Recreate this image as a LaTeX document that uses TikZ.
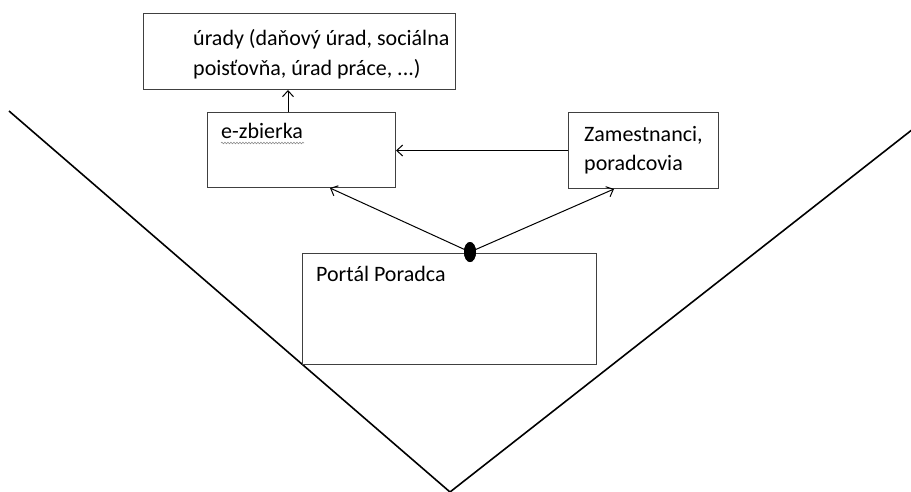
\documentclass[tikz,border=0pt]{standalone}
\usepackage{fontspec}
\setmainfont{Carlito}
\usetikzlibrary{arrows.meta,shapes.geometric,decorations.pathmorphing}
\begin{document}
\begin{tikzpicture}[x=1pt,y=-1pt,
  box/.style={draw=black!75,line width=1pt,rectangle,anchor=north west,inner sep=0pt},
  txt/.style={anchor=base west,inner sep=0pt,font=\fontsize{22}{29}\selectfont,align=left},
  arr/.style={line width=1pt,-{Straight Barb[length=6pt,width=11pt]}},
  vline/.style={line width=1.6pt,black}]
\useasboundingbox (0,0) rectangle (911,491);
% V shape
\coordinate (vl) at (9,111);
\coordinate (vb) at (450,492);
\coordinate (vr) at (913,129);
\draw[vline] (vl) -- (vb) -- (vr);
% boxes
\node[box,fill=white,minimum width=312pt,minimum height=76pt] (urady) at (143,13) {};
\node[box,minimum width=188pt,minimum height=75pt] (ez) at (207,112) {};
\node[box,minimum width=150pt,minimum height=76pt] (zam) at (568,112) {};
\node[box,fill=white,minimum width=294pt,minimum height=111pt] (portal) at (302,253) {};
% texts
\node[txt] (t1) at (193,45) {úrady (daňový úrad, sociálna};
\node[txt] (t2) at (193,75) {poisťovňa, úrad práce, ...)};
\node[txt] (t3) at (221,138) {e-zbierka};
\node[txt] (t4) at (584,141) {Zamestnanci,};
\node[txt] (t5) at (584,170) {poradcovia};
\node[txt] (t6) at (316,281) {Portál Poradca};
% spell-check underline
\coordinate (sq1) at (221,143);
\coordinate (sq2) at (304,143);
\draw[black!45,line width=0.6pt,decorate,decoration={snake,amplitude=0.8pt,segment length=3pt}] (sq1) -- (sq2);
% connectors
\node[ellipse,fill=black,inner sep=0pt,minimum width=12pt,minimum height=20pt] (dot) at (470,252) {};
\draw[arr] ([xshift=81pt]ez.north west) -- ([xshift=81pt]ez.north west |- urady.south);
\draw[arr] (zam.west) -- (zam.west -| ez.east);
\draw[arr] (dot.center) -- ([xshift=123pt]ez.south west);
\draw[arr] (dot.center) -- ([xshift=46pt]zam.south west);
\node[ellipse,fill=black,inner sep=0pt,minimum width=12pt,minimum height=20pt] at (dot) {};
\end{tikzpicture}
\end{document}
